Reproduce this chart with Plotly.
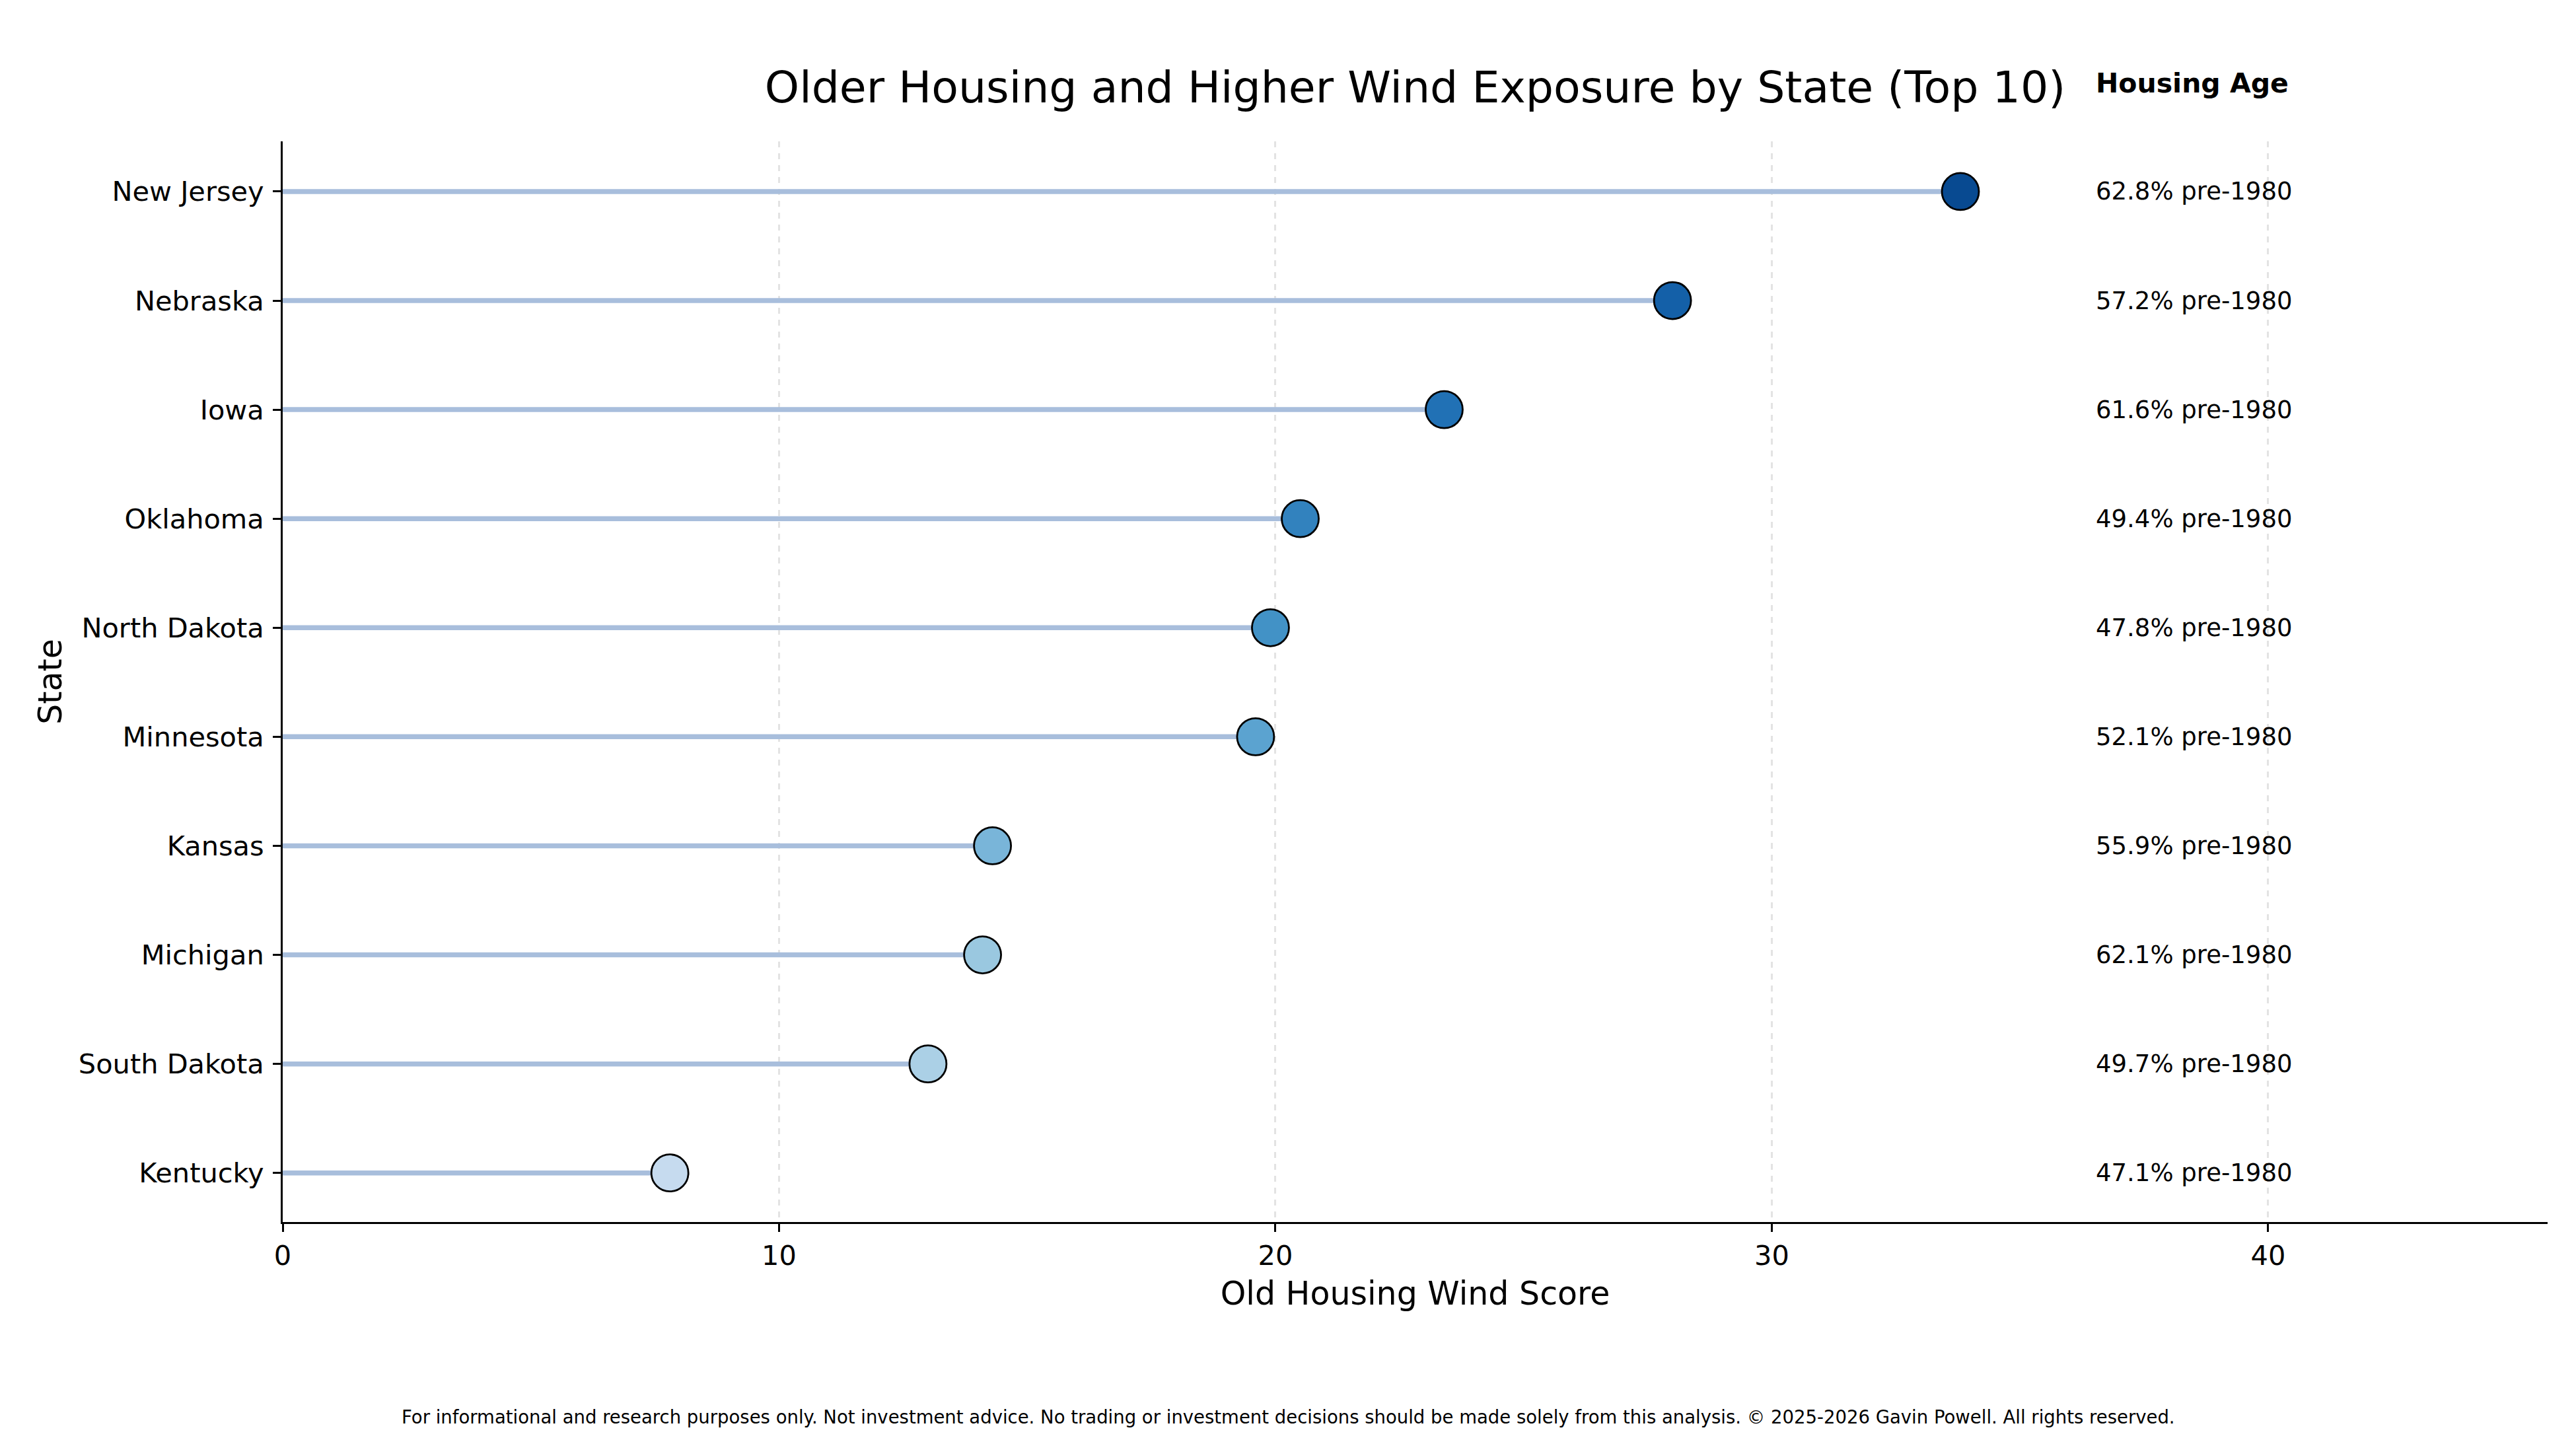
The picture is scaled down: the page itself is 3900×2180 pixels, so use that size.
import plotly.graph_objects as go

# ---- data (top to bottom) ----
states = ["New Jersey", "Nebraska", "Iowa", "Oklahoma", "North Dakota",
          "Minnesota", "Kansas", "Michigan", "South Dakota", "Kentucky"]
wind_scores = [33.8, 28.0, 23.4, 20.5, 19.9, 19.6, 14.3, 14.1, 13.0, 7.8]
pct_pre1980 = [62.8, 57.2, 61.6, 49.4, 47.8, 52.1, 55.9, 62.1, 49.7, 47.1]
x_ticks = [0, 10, 20, 30, 40]

# ---- styles ----
marker_colors = ["#084a91", "#1460a8", "#2171b5", "#3282be", "#4292c6",
                 "#5ba3d0", "#79b5d9", "#9ac8e0", "#abd0e6", "#c6dbef"]
STEM = "#a8bedc"
FONT = "DejaVu Sans"

W, H = 3900, 2180
L, R, T, B = 428, 43, 214, 330
PH = H - T - B

fig = go.Figure()

# stems
sx, sy = [], []
for s, v in zip(states, wind_scores):
    sx += [0, v, None]
    sy += [s, s, None]
fig.add_trace(go.Scatter(x=sx, y=sy, mode="lines",
                         line=dict(color=STEM, width=7.5),
                         hoverinfo="skip", showlegend=False))

# dots
fig.add_trace(go.Scatter(x=wind_scores, y=states, mode="markers",
                         marker=dict(size=56, color=marker_colors,
                                     line=dict(color="black", width=2.8)),
                         showlegend=False))

xmax = max(wind_scores) * 1.35
label_x = max(wind_scores) * 1.08

# right-hand housing age labels
for s, p in zip(states, pct_pre1980):
    fig.add_annotation(x=label_x, y=s, xref="x", yref="y",
                       text=f"{p:.1f}% pre-1980", showarrow=False,
                       xanchor="left", yanchor="middle",
                       font=dict(family=FONT, size=37, color="black"))

fig.add_annotation(x=label_x, y=(H - B - 126) / PH, xref="x", yref="paper",
                   text="<b>Housing Age</b>", showarrow=False,
                   xanchor="left", yanchor="middle",
                   font=dict(family=FONT, size=41, color="black"))

fig.add_annotation(x=(W / 2 - L) / (W - L - R), y=(H - B - 2145) / PH,
                   xref="paper", yref="paper",
                   text="For informational and research purposes only. Not investment advice. "
                        "No trading or investment decisions should be made solely from this analysis. "
                        "© 2025-2026 Gavin Powell. All rights reserved.",
                   showarrow=False, xanchor="center", yanchor="middle",
                   font=dict(family=FONT, size=27.5, color="black"))

fig.update_layout(
    width=W, height=H,
    margin=dict(l=L, r=R, t=T, b=B, autoexpand=False),
    paper_bgcolor="white", plot_bgcolor="white",
    font=dict(family=FONT, color="black"),
    title=dict(text="Older Housing and Higher Wind Exposure by State (Top 10)",
               x=(L + (W - L - R) / 2) / W, xanchor="center",
               y=1 - 132 / H, yanchor="middle", yref="container",
               font=dict(family=FONT, size=66.5, color="black")),
    showlegend=False,
)

fig.update_xaxes(
    range=[0, xmax], tickvals=x_ticks, ticktext=[str(t) for t in x_ticks],
    showline=True, linecolor="black", linewidth=3,
    ticks="outside", ticklen=12, tickwidth=3, tickcolor="black",
    tickfont=dict(family=FONT, size=41.5, color="black"),
    showgrid=True, gridcolor="#e3e3e3", gridwidth=3, griddash="dash",
    zeroline=False,
    title=dict(text="Old Housing Wind Score", standoff=17,
               font=dict(family=FONT, size=49, color="black")),
)
fig.update_yaxes(
    type="category", categoryorder="array", categoryarray=states,
    range=[len(states) - 1 + 0.45, -0.46],
    showline=True, linecolor="black", linewidth=3,
    ticks="outside", ticklen=12, tickwidth=3, tickcolor="black",
    ticklabelstandoff=5,
    tickfont=dict(family=FONT, size=41.5, color="black"),
    showgrid=False, zeroline=False,
    title=dict(text="State", standoff=10,
               font=dict(family=FONT, size=49, color="black")),
)

fig.write_html("out.html",
               config={"displayModeBar": False},
               post_script="document.body.style.margin='0';document.body.style.overflow='hidden';")
